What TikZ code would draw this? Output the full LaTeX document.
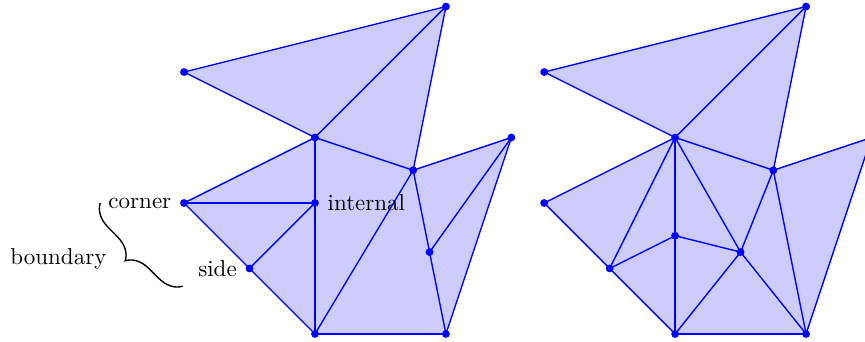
\documentclass[tikz,border=0pt]{standalone}
\usetikzlibrary{decorations.pathreplacing}
\begin{document}
\begin{tikzpicture}[
  edge/.style={draw=blue, semithick},
  region/.style={fill=blue!20},
  vtx/.style={circle, fill=blue, inner sep=0pt, minimum size=3.4pt},
  tag/.style={inner sep=3.33pt}
]
\clip (-4.81,-0.12) rectangle (8.40,5.10);

%% ── Left triangulation ───────────────────────────────────────────────────────

\coordinate (lA) at (-2,    4);
\coordinate (lB) at ( 2,    5);
\coordinate (lC) at ( 0,    3);
\coordinate (lD) at ( 1.5,  2.5);
\coordinate (lE) at ( 3,    3);
\coordinate (lF) at (-2,    2);
\coordinate (lG) at ( 0,    2);
\coordinate (lH) at (-1,    1);
\coordinate (lI) at ( 1.75, 1.25);
\coordinate (lJ) at ( 0,    0);
\coordinate (lK) at ( 2,    0);

\fill[region] (lA) -- (lB) -- (lD) -- (lE) -- (lK) -- (lJ) -- (lH) -- (lF) -- (lC) -- cycle;

\foreach \a/\b in {A/B, A/C, B/C, B/D, C/D, D/E, E/K, E/I, D/I, I/K, D/J,
                   C/G, G/J, C/F, F/G, F/H, G/H, H/J, J/K}
  \draw[edge] (l\a) -- (l\b);

%% ── Right triangulation ──────────────────────────────────────────────────────

\coordinate (rA) at (3.5, 4);
\coordinate (rB) at (7.5, 5);
\coordinate (rC) at (5.5, 3);
\coordinate (rD) at (7,   2.5);
\coordinate (rE) at (8.5, 3);
\coordinate (rF) at (3.5, 2);
\coordinate (rG) at (5.5, 1.5);
\coordinate (rH) at (4.5, 1);
\coordinate (rI) at (6.5, 1.25);
\coordinate (rJ) at (5.5, 0);
\coordinate (rK) at (7.5, 0);

\fill[region] (rA) -- (rB) -- (rD) -- (rE) -- (rK) -- (rJ) -- (rH) -- (rF) -- (rC) -- cycle;

\foreach \a/\b in {A/B, A/C, B/C, B/D, C/D, D/E, E/K, D/K, C/F, F/H, H/J, J/K,
                   C/H, C/G, G/J, H/G, G/I, C/I, D/I, I/J, I/K}
  \draw[edge] (r\a) -- (r\b);

%% ── Vertices ─────────────────────────────────────────────────────────────────

\foreach \v in {lA, lB, lC, lD, lE, lF, lG, lH, lI, lJ, lK,
                rA, rB, rC, rD, rE, rF, rG, rH, rI, rJ, rK}
  \node[vtx] (dot\v) at (\v) {};

%% ── Labels ───────────────────────────────────────────────────────────────────

\node[tag, left=2pt]  (corner)   at (lF) {corner};
\node[tag, right=2pt] (internal) at (lG) {internal};
\node[tag, left=2pt]  (side)     at (lH) {side};

\coordinate (braceLo) at (-2.02, 0.73);
\coordinate (braceHi) at (-3.28, 2.0);
\draw[semithick, decorate, decoration={brace, amplitude=10pt}] (braceLo) -- (braceHi);
\node[tag, left] (boundary) at (-3.06, 1.15) {boundary};

\end{tikzpicture}
\end{document}
